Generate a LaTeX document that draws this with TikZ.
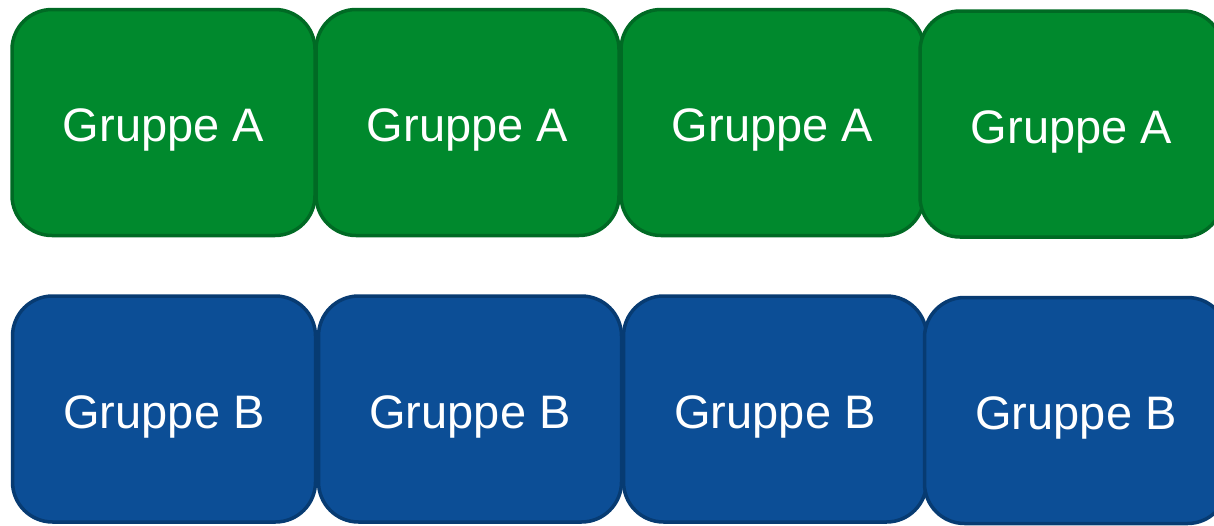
\documentclass[tikz,border=0pt]{standalone}
\usepackage{fontspec}
\setmainfont{Liberation Sans}
\usepackage{xcolor}
\usetikzlibrary{positioning}

\definecolor{gruenfill}{HTML}{00892D}
\definecolor{gruenrand}{HTML}{006A24}
\definecolor{blaufill}{HTML}{0C4E96}
\definecolor{blaurand}{HTML}{073B72}

\begin{document}
\begin{tikzpicture}[x=1pt, y=1pt, node distance=305pt,
                gruppe/.style={rectangle, rounded corners=40pt, line width=3.5pt,
                  minimum width=303pt, minimum height=226pt, inner sep=0pt,
                  text height=38pt, text depth=0pt,
                  text=white, font=\fontsize{47}{56}\selectfont},
                gruppeA/.style={gruppe, fill=gruenfill, draw=gruenrand},
                gruppeB/.style={gruppe, fill=blaufill, draw=blaurand}]
		\useasboundingbox (0,0) rectangle (1214,-525);
		\begin{scope}
			% obere Reihe
			\node [gruppeA] (a0) at (163.5,-122.5) {Gruppe A};
			\node [gruppeA] (a1) [right of=a0, xshift=-1pt] {Gruppe A};
			\node [gruppeA] (a2) [right of=a1] {Gruppe A};
			\node [gruppeA] (a3) [right of=a2, xshift=-6pt, yshift=-1.5pt] {Gruppe A};
			% untere Reihe
			\node [gruppeB] (b0) at (164,-409) {Gruppe B};
			\node [gruppeB] (b1) [right of=b0, xshift=1pt] {Gruppe B};
			\node [gruppeB] (b2) [right of=b1] {Gruppe B};
			\node [gruppeB] (b3) [right of=b2, xshift=-4pt, yshift=-1.5pt] {Gruppe B};
		\end{scope}
		\end{tikzpicture}
\end{document}
